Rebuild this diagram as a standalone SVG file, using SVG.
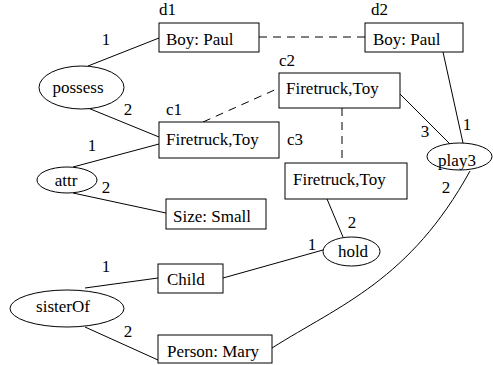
<svg xmlns="http://www.w3.org/2000/svg" width="493" height="365" viewBox="0 0 493 365" font-family="Liberation Serif, DejaVu Serif, serif" font-size="17">
  <style>
    .mid { text-anchor: middle; }
    .box { fill: #fff; stroke: #000; stroke-width: 1; }
    .rel { fill: #fff; stroke: #000; stroke-width: 1; }
    .edge { fill: none; stroke: #000; stroke-width: 1; }
    .coref { fill: none; stroke: #000; stroke-width: 1; stroke-dasharray: 8 6; }
  </style>
  <rect width="493" height="365" fill="#fff"/>

  <!-- connectors -->
  <g id="connectors">
    <line class="edge" x1="88" y1="66" x2="159" y2="38"/>
    <line class="edge" x1="88" y1="108" x2="159" y2="137"/>
    <line class="edge" x1="73" y1="167" x2="159" y2="144"/>
    <line class="edge" x1="73" y1="193" x2="166" y2="213"/>
    <line class="edge" x1="85" y1="288" x2="158" y2="278"/>
    <line class="edge" x1="85" y1="327" x2="158" y2="360"/>
    <line class="edge" x1="223" y1="278" x2="323" y2="250"/>
    <line class="edge" x1="327" y1="199" x2="343" y2="237"/>
    <line class="edge" x1="400" y1="94" x2="450" y2="144"/>
    <line class="edge" x1="443" y1="52" x2="463" y2="143"/>
    <path class="edge" d="M272,348 C340,305 410,280 470,171"/>
    <line class="coref" x1="259" y1="37" x2="365" y2="37"/>
    <line class="coref" x1="203" y1="122" x2="279" y2="88"/>
    <line class="coref" x1="342" y1="108" x2="342" y2="163"/>
  </g>

  <!-- concept boxes -->
  <g id="d1">
    <rect class="box" x="159" y="23" width="100" height="29"/>
    <text x="166" y="45">Boy: Paul</text>
    <text x="159" y="15">d1</text>
  </g>
  <g id="d2">
    <rect class="box" x="365" y="23" width="98" height="29"/>
    <text x="373" y="45">Boy: Paul</text>
    <text x="371" y="15">d2</text>
  </g>
  <g id="c1">
    <rect class="box" x="159" y="122" width="120" height="36"/>
    <text x="166" y="145">Firetruck,Toy</text>
    <text x="166" y="115">c1</text>
  </g>
  <g id="c2">
    <rect class="box" x="279" y="73" width="121" height="35"/>
    <text x="286" y="94">Firetruck,Toy</text>
    <text x="279" y="66">c2</text>
  </g>
  <g id="c3">
    <rect class="box" x="285" y="163" width="122" height="36"/>
    <text x="293" y="185">Firetruck,Toy</text>
    <text x="287" y="145">c3</text>
  </g>
  <g id="size">
    <rect class="box" x="166" y="199" width="100" height="30"/>
    <text x="173" y="222">Size: Small</text>
  </g>
  <g id="child">
    <rect class="box" x="158" y="264" width="65" height="29"/>
    <text x="167" y="285">Child</text>
  </g>
  <g id="mary">
    <rect class="box" x="158" y="335" width="114" height="28"/>
    <text x="167" y="357">Person: Mary</text>
  </g>

  <!-- relation ellipses -->
  <g id="possess">
    <ellipse class="rel" cx="81.5" cy="87.5" rx="42.5" ry="21.5"/>
    <text class="mid" x="78" y="93">possess</text>
  </g>
  <g id="attr">
    <ellipse class="rel" cx="67" cy="180" rx="30" ry="13"/>
    <text class="mid" x="66" y="186">attr</text>
  </g>
  <g id="sisterOf">
    <ellipse class="rel" cx="67" cy="308.5" rx="57" ry="18.5"/>
    <text class="mid" x="63" y="312">sisterOf</text>
  </g>
  <g id="hold">
    <ellipse class="rel" cx="351.5" cy="251.5" rx="28.5" ry="14.5"/>
    <text class="mid" x="353" y="257">hold</text>
  </g>
  <g id="play3">
    <ellipse class="rel" cx="459.5" cy="156.5" rx="32.5" ry="13.5"/>
    <text class="mid" x="457" y="166">play3</text>
  </g>

  <!-- argument numbers -->
  <g id="arc-labels">
    <text class="mid" x="106" y="45">1</text>
    <text class="mid" x="128" y="115">2</text>
    <text class="mid" x="92" y="151">1</text>
    <text class="mid" x="106" y="193">2</text>
    <text class="mid" x="106" y="272">1</text>
    <text class="mid" x="128" y="337">2</text>
    <text class="mid" x="425" y="137">3</text>
    <text class="mid" x="467" y="130">1</text>
    <text class="mid" x="352" y="228">2</text>
    <text class="mid" x="312" y="250">1</text>
    <text class="mid" x="446" y="193">2</text>
  </g>
</svg>
